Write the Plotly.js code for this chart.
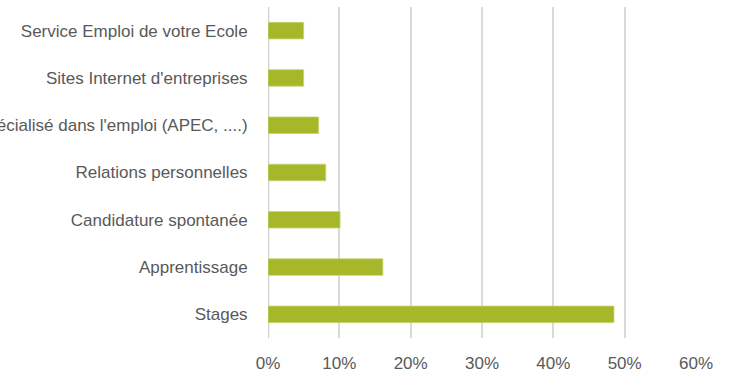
<!DOCTYPE html>
<html>
<head>
<meta charset="utf-8">
<script src="https://cdn.plot.ly/plotly-3.0.1.min.js"></script>
<style>html,body{margin:0;padding:0;background:#fff;}#chart{width:738px;height:378px;}</style>
</head>
<body>
<div id="chart"></div>
<script>
const categories = [
  "Stages",
  "Apprentissage",
  "Candidature spontanée",
  "Relations personnelles",
  "Site spécialisé dans l'emploi (APEC, ....)",
  "Sites Internet d'entreprises",
  "Service Emploi de votre Ecole"
];
const values = [0.485, 0.161, 0.101, 0.081, 0.071, 0.050, 0.050];
const tickValues = [0, 0.1, 0.2, 0.3, 0.4, 0.5, 0.6];
const tickLabels = ["0%", "10%", "20%", "30%", "40%", "50%", "60%"];

const trace = {
  type: 'bar',
  orientation: 'h',
  y: categories,
  x: values,
  marker: {color: '#a6b82a', line: {color: '#c9d47a', width: 0.8}},
  hoverinfo: 'none'
};
const font = {family: '"Liberation Sans Narrow", "Arial Narrow", "Liberation Sans", sans-serif', size: 17, color: '#595959'};
const layout = {
  width: 738, height: 378,
  margin: {l: 268, r: 42, t: 7, b: 40, pad: 0},
  paper_bgcolor: '#fff', plot_bgcolor: '#fff',
  showlegend: false,
  bargap: 0.65,
  font: font,
  xaxis: {
    range: [0, 0.6],
    tickvals: tickValues, ticktext: tickLabels,
    showgrid: true, gridcolor: '#d9d9d9', gridwidth: 2,
    zeroline: false, showline: false,
    ticks: 'outside', ticklen: 10, tickcolor: 'rgba(0,0,0,0)',
    tickfont: font, fixedrange: true
  },
  yaxis: {
    categoryorder: 'array', categoryarray: categories,
    showgrid: false, zeroline: false, showline: false,
    ticks: 'outside', ticklen: 16, tickcolor: 'rgba(0,0,0,0)',
    tickfont: font, fixedrange: true
  },
  shapes: [{type: 'line', xref: 'x', yref: 'paper', x0: 0, x1: 0, y0: 0, y1: 1, line: {color: '#d0d0d0', width: 2.5}, layer: 'below'}]
};
Plotly.newPlot('chart', [trace], layout, {displayModeBar: false, staticPlot: true});
</script>
</body>
</html>
